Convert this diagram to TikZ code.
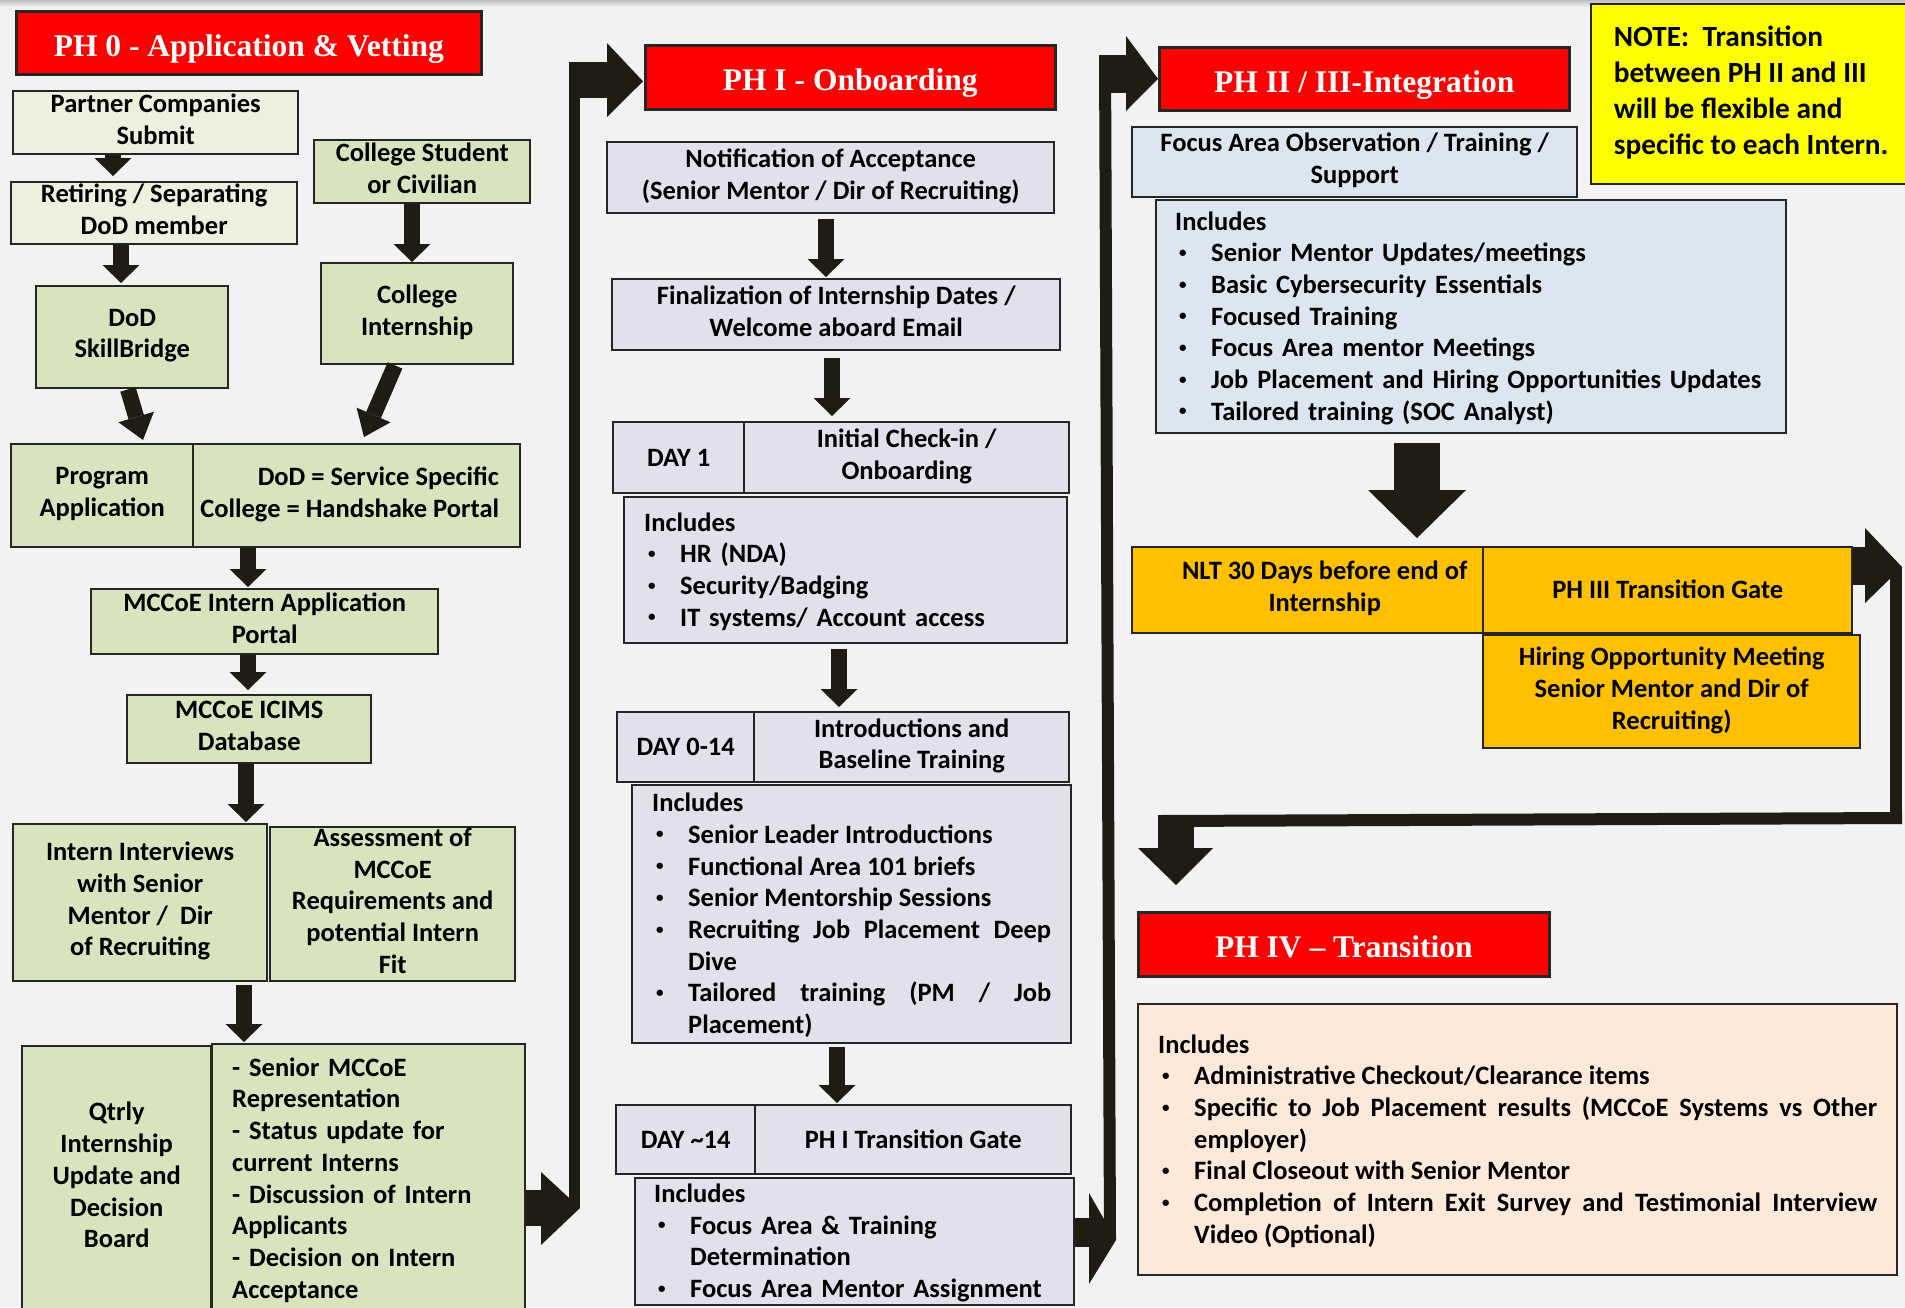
\documentclass[tikz,border=0pt]{standalone}
\usepackage{fontspec}
\usepackage{graphicx}
\setmainfont{Carlito}
\newfontfamily\tnr{Liberation Serif}
\usetikzlibrary{arrows.meta,calc}
\setlength{\parindent}{0pt}
\hyphenpenalty=10000
\exhyphenpenalty=10000
\definecolor{bgc}{HTML}{F2F2F2}
\definecolor{lgrn}{HTML}{EBF1DE}
\definecolor{grn}{HTML}{D7E4BD}
\definecolor{lav}{HTML}{E4DFEC}
\definecolor{lblu}{HTML}{DCE6F1}
\definecolor{orng}{HTML}{FFC000}
\definecolor{peach}{HTML}{FDE9D9}
\definecolor{yel}{HTML}{FFFF00}
\definecolor{redc}{HTML}{FF0000}
\definecolor{darkc}{HTML}{1E1C13}
\definecolor{boxc}{HTML}{262626}
\newcommand\bodyf{\fontsize{26.5}{31.7}\selectfont\bfseries}
\newcommand\notef{\fontsize{29.3}{36}\selectfont\bfseries}
\newcommand\titlef{\tnr\fontsize{31.5}{38}\selectfont\bfseries}
\newcommand\lstrut{\rule[-7.35pt]{0pt}{31.7pt}}
\newcommand\nstrut{\rule[-8.6pt]{0pt}{36pt}}
\newcommand\smbul{\raisebox{4.5pt}{\fontsize{15}{15}\selectfont\textbullet}}
\newcommand\itm[1]{\par\hangindent=36pt\hangafter=1\noindent\makebox[36pt][l]{\hspace{4pt}\smbul}#1}
\newcommand\itmlast[1]{\itm{#1\lstrut\par}}
\begin{document}
\begin{tikzpicture}[x=1pt,y=-1pt,
  basebox/.style={draw=boxc, line width=2.4pt, inner sep=0pt, anchor=north west, font=\bodyf, align=center},
  box/.style={basebox, execute at begin node=\lstrut, execute at end node=\lstrut},
  listbox/.style={basebox, execute at begin node=\lstrut},
  titlebox/.style={draw=boxc, line width=2.6pt, fill=redc, text=white, font=\titlef, inner sep=0pt,
    anchor=north west, text height=27pt, text depth=0pt},
  barrow/.style={draw=darkc, line width=16pt, -{Triangle[width=37pt,length=18pt,line width=0pt]}},
  bigarrow/.style={draw=darkc, line width=46pt, -{Triangle[width=98pt,length=48pt,line width=0pt]}},
  darkfill/.style={fill=darkc}
]
\useasboundingbox (0,0) rectangle (1905,1307);
\clip (0,0) rectangle (1905,1307);
\fill[bgc] (0,0) rectangle (1905,1307);
\shade[top color=black!25, bottom color=bgc] (0,0) rectangle (1905,7);

% ---------- PH 0 ----------
\node[titlebox, minimum width=465pt, minimum height=63pt] (t0) at (15,10) {PH 0 - Application \& Vetting};
\node[box, fill=lgrn, minimum width=285pt, minimum height=63pt] (partner) at (12,90) {Partner Companies\\Submit};
\node[box, fill=lgrn, minimum width=286pt, minimum height=62pt] (retiring) at (10,181) {Retiring / Separating\\DoD member};
\node[box, fill=grn, minimum width=192pt, minimum height=102pt] (skill) at (35,285) {DoD\\SkillBridge};
\node[box, fill=grn, minimum width=216pt, minimum height=63pt] (student) at (313,139) {College Student\\or Civilian};
\node[box, fill=grn, minimum width=192pt, minimum height=101pt] (collint) at (320,262) {College\\Internship};
\node[box, fill=grn, minimum width=182pt, minimum height=103pt] (progapp) at (10,443) {Program\\Application};
\node[box, fill=grn, minimum width=327pt, minimum height=103pt, align=right] (spec) at (192,443)
  {DoD = Service Specific\hspace*{14pt}\\College = Handshake Portal\hspace*{14pt}};
\node[box, fill=grn, minimum width=347pt, minimum height=65pt] (appportal) at (90,588) {MCCoE Intern Application\\Portal};
\node[box, fill=grn, minimum width=244pt, minimum height=68pt] (icims) at (126,694) {MCCoE ICIMS\\Database};
\node[box, fill=grn, minimum width=254pt, minimum height=157pt] (interviews) at (12,823) {Intern Interviews\\with Senior\\Mentor /\ \ Dir\\of Recruiting};
\node[box, fill=grn, minimum width=245pt, minimum height=154pt] (assess) at (269,826) {Assessment of\\MCCoE\\Requirements and\\potential Intern\\Fit};
\node[box, fill=grn, minimum width=189pt, minimum height=265pt] (qtrly) at (21,1045) {Qtrly\\Internship\\Update and\\Decision\\Board};
\node[box, fill=grn, minimum width=313pt, minimum height=269pt, text width=273pt, align=left] (qlist) at (211,1043)
  {- Senior MCCoE\\Representation\\- Status update for\\current Interns\\- Discussion of Intern\\Applicants\\- Decision on Intern\\Acceptance};

% ---------- PH I ----------
\node[titlebox, minimum width=410pt, minimum height=64pt] (t1) at (644,44) {PH I - Onboarding};
\node[box, fill=lav, minimum width=447pt, minimum height=71pt] (notif) at (606,141) {Notification of Acceptance\\(Senior Mentor / Dir of Recruiting)};
\node[box, fill=lav, minimum width=448pt, minimum height=71pt] (final) at (611,278) {Finalization of Internship Dates /\\Welcome aboard Email};
\node[box, fill=lav, minimum width=131pt, minimum height=71pt] (day1) at (612,421) {DAY 1};
\node[box, fill=lav, minimum width=325pt, minimum height=71pt] (day1t) at (743,421) {Initial Check-in /\\Onboarding};
\node[listbox, fill=lav, minimum width=443pt, minimum height=146pt, text width=403pt, align=left] (inc1) at (623,496)
  {Includes\itm{HR (NDA)}\itm{Security/Badging}\itmlast{IT systems/ Account access}};
\node[box, fill=lav, minimum width=137pt, minimum height=70pt] (day014) at (616,711) {DAY 0-14};
\node[box, fill=lav, minimum width=315pt, minimum height=70pt] (intro) at (753,711) {Introductions and\\Baseline Training};
\node[listbox, fill=lav, minimum width=439pt, minimum height=258pt, text width=399pt, align=justify] (inc2) at (631,784)
  {Includes\itm{Senior Leader Introductions}\itm{Functional Area 101 briefs}\itm{Senior Mentorship Sessions}\itm{Recruiting Job Placement Deep Dive}\itmlast{Tailored training (PM / Job Placement)}};
\node[box, fill=lav, minimum width=139pt, minimum height=69pt] (day14) at (615,1104) {DAY \textasciitilde14};
\node[box, fill=lav, minimum width=316pt, minimum height=69pt] (gate1) at (754,1104) {PH I Transition Gate};
\node[listbox, fill=lav, minimum width=439pt, minimum height=124pt, text width=401pt, align=left] (inc3) at (634,1177)
  {Includes\itm{Focus Area \& Training\newline Determination}\itmlast{Focus Area Mentor Assignment}};

% ---------- PH II / III ----------
\node[titlebox, minimum width=410pt, minimum height=63pt] (t2) at (1158,46) {PH II / III-Integration};
\node[basebox, fill=yel, minimum width=320pt, minimum height=180pt, align=left, font=\notef,
  execute at begin node=\nstrut, execute at end node=\nstrut] (note) at (1590,3)
  {NOTE:\ \ Transition\\between PH II and III\\will be flexible and\\specific to each Intern.};
\node[box, fill=lblu, minimum width=445pt, minimum height=70pt] (focus) at (1131,126) {Focus Area Observation / Training /\\Support};
\node[listbox, fill=lblu, minimum width=630pt, minimum height=233pt, text width=592pt, align=left] (inc4) at (1155,199)
  {Includes\itm{Senior Mentor Updates/meetings}\itm{Basic Cybersecurity Essentials}\itm{Focused Training}\itm{Focus Area mentor Meetings}\itm{Job Placement and Hiring Opportunities Updates}\itmlast{Tailored training (SOC Analyst)}};
\node[box, fill=orng, minimum width=351pt, minimum height=86pt] (nlt) at (1131,546) {\hspace*{34pt}NLT 30 Days before end of\\\hspace*{34pt}Internship};
\node[box, fill=orng, minimum width=369pt, minimum height=86pt] (gate3) at (1482,546) {PH III Transition Gate};
\node[box, fill=orng, minimum width=377pt, minimum height=113pt] (hiring) at (1482,634) {Hiring Opportunity Meeting\\Senior Mentor and Dir of\\Recruiting)};

% ---------- PH IV ----------
\node[titlebox, minimum width=411pt, minimum height=64pt] (t4) at (1137,911) {PH IV – Transition};
\node[listbox, fill=peach, minimum width=759pt, minimum height=271pt, text width=719pt, align=justify] (inc5) at (1137,1003)
  {Includes\itm{Administrative Checkout/Clearance items}\itm{Specific to Job Placement results (MCCoE Systems vs Other employer)}\itm{Final Closeout with Senior Mentor}\itmlast{Completion of Intern Exit Survey and Testimonial Interview Video (Optional)}};

% ---------- block arrows ----------
\draw[barrow] (partner.south -| 113,0) -- ($(retiring.north -| 113,0)+(0,-5)$);
\draw[barrow] (retiring.south -| 121,0) -- ($(skill.north -| 121,0)+(0,-2)$);
\draw[barrow] (student.south -| 412,0) -- (collint.north -| 412,0);
\draw[barrow, -{Triangle[width=37pt,length=24pt,line width=0pt]}] (skill.south -| 128,0) -- ($(progapp.north -| 143,0)+(0,-3)$);
\draw[barrow, -{Triangle[width=37pt,length=24pt,line width=0pt]}] (collint.south -| 395,0) -- ($(spec.north -| 364,0)+(0,-6)$);
\draw[barrow] (spec.south -| 248,0) -- ($(appportal.north -| 248,0)+(0,-1)$);
\draw[barrow] (appportal.south -| 248,0) -- ($(icims.north -| 248,0)+(0,-4)$);
\draw[barrow] (icims.south -| 246,0) -- ($(interviews.north -| 246,0)+(0,-1)$);
\draw[barrow, shorten <=3pt] (interviews.south -| 244,0) -- ($(qlist.north -| 244,0)+(0,-1)$);
\draw[barrow, shorten <=5pt] (notif.south -| 826,0) -- ($(final.north -| 826,0)+(0,-1)$);
\draw[barrow, shorten <=7pt] (final.south -| 832,0) -- ($(day1t.north -| 832,0)+(0,-5)$);
\draw[barrow, shorten <=5pt] (inc1.south -| 839,0) -- ($(intro.north -| 839,0)+(0,-4)$);
\draw[barrow, shorten <=3pt] (inc2.south -| 837,0) -- ($(gate1.north -| 837,0)+(0,-1)$);
\draw[bigarrow, shorten <=9pt] (inc4.south -| 1417,0) -- ($(nlt.north -| 1417,0)+(0,-8)$);

% ---------- connector PH 0 -> PH I ----------
\fill[darkfill] (qlist.east |- 0,1190) rectangle (541,1226);
\fill[darkfill] (541,1172) -- (580,1208) -- (541,1245) -- cycle;
\fill[darkfill] (569,62) rectangle (580,1208);
\fill[darkfill] (569,62) rectangle (607,98);
\fill[darkfill] (607,43) -- ($(t1.west)+(-1,4)$) -- (607,117) -- cycle;

% ---------- connector PH I -> PH II ----------
\fill[darkfill] (inc3.east |- 0,1218) rectangle (1089,1247);
\fill[darkfill] (1089,1193) -- (1116,1240) -- (1089,1284) -- cycle;
\fill[darkfill] (1099,55) -- (1111,55) -- (1116,1240) -- (1104,1240) -- cycle;
\fill[darkfill] (1099,55) rectangle (1126,93);
\fill[darkfill] (1126,36) -- (t2.west) -- (1126,111) -- cycle;

% ---------- connector PH III -> PH IV ----------
\fill[darkfill] (gate3.east |- 0,547) rectangle (1865,585);
\fill[darkfill] (1865,528) -- (1902,567) -- (1865,603) -- cycle;
\fill[darkfill] (1890,567) rectangle (1902,824);
\fill[darkfill] (1158,815) -- (1902,812) -- (1902,824) -- (1158,827) -- cycle;
\fill[darkfill] (1158,815) rectangle (1194,848);
\fill[darkfill] (1138,848) -- ($(t4.north -| 1176,0)+(0,-26)$) -- (1213,848) -- cycle;
\end{tikzpicture}
\end{document}
